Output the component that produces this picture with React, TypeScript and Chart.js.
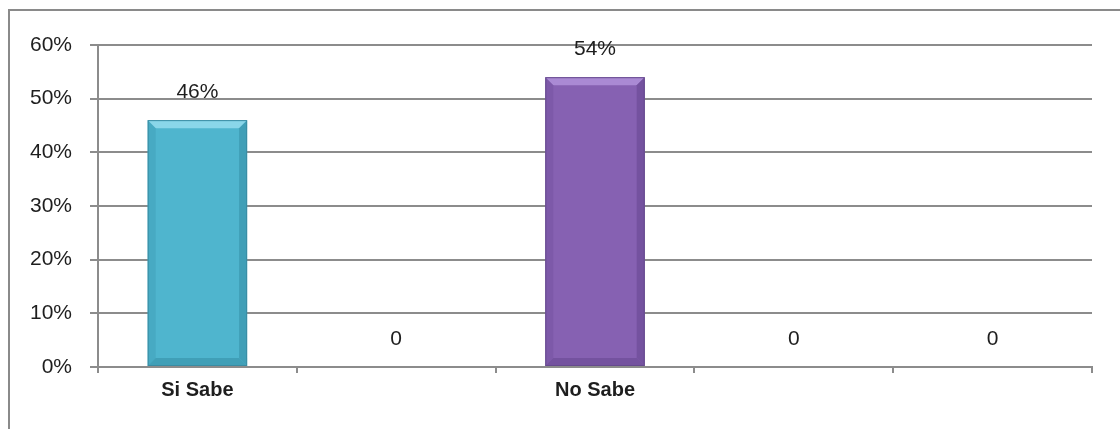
import React, { useEffect, useRef } from "react";
import { Chart, registerables } from "chart.js";

Chart.register(...registerables);

const categories: string[] = ["Si Sabe", "", "No Sabe", "", ""];
const values: number[] = [0.46, 0, 0.54, 0, 0];
const valueLabels: string[] = ["46%", "0", "54%", "0", "0"];
const yTicks: number[] = [0, 0.1, 0.2, 0.3, 0.4, 0.5, 0.6];

const barColors = ["#4FB5CE", "#4FB5CE", "#8661B2", "#8661B2", "#8661B2"];
const barTopColors = ["#8AD6E9", "#8AD6E9", "#AA8AD4", "#AA8AD4", "#AA8AD4"];
const barSideColors = ["#409FB7", "#409FB7", "#74529F", "#74529F", "#74529F"];
const barBorderColors = ["#3A8CA3", "#3A8CA3", "#664A8E", "#664A8E", "#664A8E"];

const NUM_FONT = "'Liberation Sans', Arial, sans-serif";
const TEXT_COLOR = "#1e1e1e";
const GRID_COLOR = "#8c8c8c";

const framePlugin = {
  id: "frame",
  beforeDraw(chart: any) {
    const ctx = chart.ctx;
    ctx.save();
    ctx.fillStyle = "#ffffff";
    ctx.fillRect(0, 0, chart.width, chart.height);
    ctx.strokeStyle = "#8a8a8a";
    ctx.lineWidth = 2;
    ctx.beginPath();
    ctx.moveTo(9, chart.height);
    ctx.lineTo(9, 10);
    ctx.lineTo(chart.width, 10);
    ctx.stroke();
    ctx.restore();
  },
};

const bevelPlugin = {
  id: "bevel",
  afterDatasetsDraw(chart: any) {
    const ctx = chart.ctx;
    const meta = chart.getDatasetMeta(0);
    meta.data.forEach((bar: any, i: number) => {
      if (!values[i]) return;
      const p = bar.getProps(["x", "y", "base", "width"], true);
      const l = p.x - p.width / 2;
      const r = p.x + p.width / 2;
      const t = p.y;
      const b = p.base;
      const bv = 8;
      ctx.save();
      // top bevel
      ctx.fillStyle = barTopColors[i];
      ctx.beginPath();
      ctx.moveTo(l, t);
      ctx.lineTo(r, t);
      ctx.lineTo(r - bv, t + bv);
      ctx.lineTo(l + bv, t + bv);
      ctx.closePath();
      ctx.fill();
      // right bevel
      ctx.fillStyle = barSideColors[i];
      ctx.beginPath();
      ctx.moveTo(r, t);
      ctx.lineTo(r, b);
      ctx.lineTo(r - bv, b - bv);
      ctx.lineTo(r - bv, t + bv);
      ctx.closePath();
      ctx.fill();
      // left bevel
      ctx.globalAlpha = 0.5;
      ctx.beginPath();
      ctx.moveTo(l, t);
      ctx.lineTo(l + bv, t + bv);
      ctx.lineTo(l + bv, b - bv);
      ctx.lineTo(l, b);
      ctx.closePath();
      ctx.fill();
      // bottom bevel
      ctx.globalAlpha = 1;
      ctx.fillStyle = barSideColors[i];
      ctx.beginPath();
      ctx.moveTo(l, b);
      ctx.lineTo(r, b);
      ctx.lineTo(r - bv, b - bv);
      ctx.lineTo(l + bv, b - bv);
      ctx.closePath();
      ctx.fill();
      // outline
      ctx.strokeStyle = barBorderColors[i];
      ctx.lineWidth = 1;
      ctx.strokeRect(l + 0.5, t + 0.5, p.width - 1, b - t - 1);
      ctx.restore();
    });
  },
  afterDraw(chart: any) {
    const ctx = chart.ctx;
    const meta = chart.getDatasetMeta(0);
    ctx.save();
    ctx.font = `21px ${NUM_FONT}`;
    ctx.fillStyle = TEXT_COLOR;
    ctx.textAlign = "center";
    ctx.textBaseline = "middle";
    meta.data.forEach((bar: any, i: number) => {
      const p = bar.getProps(["x", "y"], true);
      ctx.fillText(valueLabels[i], p.x, p.y - 28);
    });
    ctx.restore();
  },
};

export default function App() {
  const ref = useRef<HTMLCanvasElement | null>(null);

  useEffect(() => {
    if (!ref.current) return;
    const chart = new Chart(ref.current, {
      type: "bar",
      data: {
        labels: categories,
        datasets: [
          {
            data: values,
            backgroundColor: barColors,
            borderWidth: 0,
            barPercentage: 0.5,
            categoryPercentage: 1,
          },
        ],
      },
      options: {
        animation: false,
        responsive: true,
        maintainAspectRatio: false,
        layout: { padding: { top: 45, right: 28, left: 0, bottom: 0 } },
        plugins: {
          legend: { display: false },
          tooltip: { enabled: false },
        },
        scales: {
          x: {
            afterFit: (s: any) => {
              s.height = 62;
            },
            grid: {
              display: true,
              offset: true,
              drawOnChartArea: false,
              drawTicks: true,
              tickLength: 6,
              color: GRID_COLOR,
              lineWidth: 2,
            },
            border: { display: true, color: GRID_COLOR, width: 2 },
            ticks: {
              color: TEXT_COLOR,
              padding: 5,
              maxRotation: 0,
              autoSkip: false,
              font: { family: NUM_FONT, size: 20, weight: "bold" },
            },
          },
          y: {
            min: 0,
            max: 0.6,
            afterFit: (s: any) => {
              s.width = 98;
            },
            afterBuildTicks: (s: any) => {
              s.ticks = yTicks.map((v) => ({ value: v }));
            },
            grid: {
              color: GRID_COLOR,
              lineWidth: 2,
              drawTicks: true,
              tickLength: 8,
            },
            border: { display: true, color: GRID_COLOR, width: 2 },
            ticks: {
              color: TEXT_COLOR,
              padding: 18,
              font: { family: NUM_FONT, size: 21 },
              callback: (v: any) => Math.round(Number(v) * 100) + "%",
            },
          },
        },
      },
      plugins: [framePlugin, bevelPlugin],
    });
    return () => chart.destroy();
  }, []);

  return (
    <div style={{ position: "absolute", left: 0, top: 0, width: 1120, height: 429 }}>
      <canvas ref={ref} />
    </div>
  );
}
